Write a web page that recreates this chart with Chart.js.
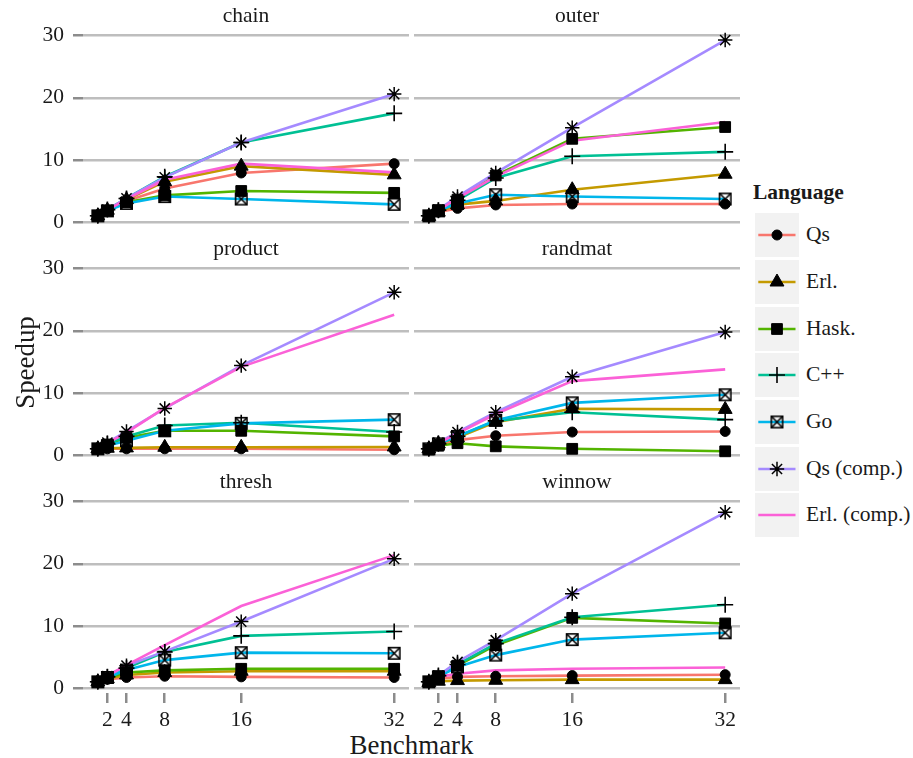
<!DOCTYPE html>
<html>
<head>
<meta charset="utf-8">
<script src="https://cdn.jsdelivr.net/npm/chart.js@4/dist/chart.umd.min.js"></script>
<style>
html,body{margin:0;padding:0;background:#fff;}
body{width:913px;height:758px;position:relative;overflow:hidden;font-family:"Liberation Serif","Times New Roman",serif;color:#1a1a1a;}
canvas.panel{position:absolute;}
.ttl{position:absolute;white-space:nowrap;line-height:1em;font-family:"Liberation Serif",serif;}
.key{position:absolute;width:44px;height:44px;background:#F2F2F2;}
.klab{position:absolute;font-size:21.5px;line-height:1em;white-space:nowrap;font-family:"Liberation Serif",serif;}
</style>
</head>
<body>
<div id="xtitle" class="ttl" style="left:0;width:823px;text-align:center;top:731.5px;font-size:26.9px;">Benchmark</div>
<div id="ltitle" class="ttl" style="left:753px;top:181.5px;font-size:21.5px;font-weight:bold;">Language</div>
<div id="legend"></div>
<script>
// ---------- data ----------
const threads = [1, 2, 4, 8, 16, 32];
const xTicks = [2, 4, 8, 16, 32];
const yTicks = [0, 10, 20, 30];
const languages = ['Qs', 'Erl.', 'Hask.', 'C++', 'Go', 'Qs (comp.)', 'Erl. (comp.)'];
const benchmarks = ['chain', 'outer', 'product', 'randmat', 'thresh', 'winnow'];

// rows follow the order of `languages`, columns follow `threads`
const chain = [
  [1.0, 1.9, 3.4, 5.4, 7.9, 9.4],
  [1.0, 1.9, 3.6, 6.5, 9.0, 7.6],
  [1.0, 1.8, 3.2, 4.3, 5.0, 4.7],
  [1.0, 2.0, 3.8, 7.3, 12.8, 17.5],
  [1.0, 1.8, 3.0, 4.1, 3.7, 2.85],
  [1.0, 2.0, 3.8, 7.2, 12.8, 20.6],
  [1.0, 1.9, 3.7, 6.8, 9.4, 8.0]
];
const outer = [
  [0.9, 1.6, 2.2, 2.75, 2.9, 2.9],
  [0.9, 1.6, 2.8, 3.4, 5.2, 7.7],
  [1.0, 1.9, 3.6, 7.5, 13.4, 15.3],
  [1.0, 1.9, 3.5, 7.1, 10.6, 11.3],
  [1.0, 1.8, 3.0, 4.4, 4.1, 3.7],
  [1.0, 2.0, 4.1, 7.9, 15.2, 29.3],
  [1.0, 1.9, 3.8, 7.3, 13.1, 16.1]
];
const product = [
  [0.9, 1.0, 1.0, 1.0, 1.0, 0.85],
  [1.0, 1.1, 1.15, 1.25, 1.25, 1.3],
  [1.0, 1.7, 2.8, 3.9, 3.9, 3.0],
  [1.0, 1.8, 3.0, 4.75, 5.2, 3.7],
  [1.0, 1.5, 2.3, 3.9, 5.1, 5.7],
  [1.0, 2.0, 3.8, 7.5, 14.4, 26.2],
  [1.0, 1.9, 3.6, 7.6, 14.2, 22.6]
];
const randmat = [
  [0.9, 1.6, 2.4, 3.1, 3.7, 3.8],
  [1.0, 1.8, 2.8, 5.3, 7.45, 7.35],
  [0.9, 1.5, 1.9, 1.4, 1.0, 0.6],
  [1.0, 1.8, 3.0, 5.5, 6.9, 5.7],
  [1.0, 1.8, 3.0, 5.6, 8.4, 9.7],
  [1.0, 2.0, 3.7, 6.9, 12.6, 19.8],
  [1.0, 1.9, 3.5, 6.6, 11.9, 13.8]
];
const thresh = [
  [0.9, 1.4, 1.7, 1.9, 1.8, 1.7],
  [1.0, 1.5, 2.1, 2.5, 2.7, 2.7],
  [1.0, 1.6, 2.5, 2.85, 3.1, 3.1],
  [1.0, 1.8, 3.2, 5.8, 8.4, 9.1],
  [1.0, 1.7, 2.9, 4.5, 5.7, 5.6],
  [1.0, 1.9, 3.6, 5.9, 10.7, 20.8],
  [1.0, 2.0, 3.7, 6.9, 13.2, 21.4]
];
const winnow = [
  [0.9, 1.5, 1.8, 1.9, 2.0, 2.15],
  [0.9, 1.1, 1.2, 1.25, 1.35, 1.35],
  [1.0, 1.9, 3.6, 6.9, 11.3, 10.4],
  [1.0, 2.0, 3.8, 7.15, 11.4, 13.4],
  [1.0, 1.8, 3.4, 5.3, 7.8, 8.9],
  [1.0, 2.0, 4.2, 7.7, 15.2, 28.3],
  [1.0, 1.8, 2.3, 2.85, 3.1, 3.3]
];
const benchData = [chain, outer, product, randmat, thresh, winnow];

// ---------- styles ----------
const colors = ['#F8766D', '#C49A00', '#53B400', '#00C094', '#00B6EB', '#A58AFF', '#FB61D7'];
const FONT = "'Liberation Serif', serif";
const TXT = '#1a1a1a';
const GRID = '#BEBEBE';
const TICKC = '#8C8C8C';

function boxX() {
  const c = document.createElement('canvas');
  c.width = 15; c.height = 15;
  const g = c.getContext('2d');
  g.strokeStyle = '#000'; g.lineWidth = 1.6;
  g.strokeRect(1.8, 1.8, 11.4, 11.4);
  g.beginPath();
  g.moveTo(1.8, 1.8); g.lineTo(13.2, 13.2);
  g.moveTo(13.2, 1.8); g.lineTo(1.8, 13.2);
  g.stroke();
  return c;
}
const goImg = boxX();
const markers = [
  {style: 'circle', r: 5, bw: 1},
  {style: 'triangle', r: 8, bw: 1},
  {style: 'rect', r: 7.6, bw: 1},
  {style: 'cross', r: 8, bw: 1.6},
  {style: goImg, r: 7, bw: 1},
  {style: 'star', r: 7.2, bw: 1.5},
  null
];

// ---------- layout ----------
const colLeft = [83, 414];
const panelW = 326;
const rowTop = [32, 265, 498];
const panelH = 195;
const axisW = 83;
const stripH = 34;
const bottomH = 40;
const padB = 26;

Chart.defaults.font.family = FONT;
Chart.defaults.color = TXT;

benchmarks.forEach((name, b) => {
  const row = Math.floor(b / 2), col = b % 2;
  const data = benchData[b];
  const cv = document.createElement('canvas');
  cv.className = 'panel';
  const left = col === 0 ? 0 : colLeft[1];
  const w = col === 0 ? axisW + panelW : panelW;
  const h = stripH + panelH + (row === 2 ? bottomH : padB);
  cv.width = w; cv.height = h;
  cv.style.left = left + 'px';
  cv.style.top = (rowTop[row] - stripH) + 'px';
  cv.style.width = w + 'px'; cv.style.height = h + 'px';
  document.body.appendChild(cv);

  const datasets = [];
  languages.forEach((lang, i) => {
    const pts = threads.map((t, k) => ({x: t, y: data[i][k]}));
    datasets.push({
      label: lang, data: pts, borderColor: colors[i], backgroundColor: colors[i],
      borderWidth: 2.6, pointRadius: 0, fill: false, tension: 0, order: 100 + (7 - i)
    });
    const m = markers[i];
    if (m) {
      datasets.push({
        label: lang + ' pts', data: pts, showLine: false,
        pointStyle: m.style, pointRadius: m.r, pointBorderWidth: m.bw,
        pointBackgroundColor: '#000', pointBorderColor: '#000', order: 10 - i
      });
    }
  });

  new Chart(cv, {
    type: 'line',
    data: {datasets},
    options: {
      responsive: false, animation: false, events: [],
      layout: {padding: {left: 0, right: 0, top: 0, bottom: row === 2 ? 0 : padB}, autoPadding: false},
      plugins: {legend: {display: false}, tooltip: {enabled: false}},
      scales: {
        x: {
          type: 'linear', position: 'bottom', min: -0.55, max: 33.55,
          display: row === 2,
          grid: {drawOnChartArea: false, drawTicks: true, tickLength: 10, tickColor: TICKC, lineWidth: 2.5},
          border: {display: false},
          ticks: {padding: 4, font: {family: FONT, size: 21.5}, color: TXT, maxRotation: 0, autoSkip: false},
          afterBuildTicks: s => { s.ticks = xTicks.map(v => ({value: v})); },
          afterFit: s => { s.height = row === 2 ? bottomH : 0; }
        },
        strip: {
          type: 'linear', position: 'top', axis: 'x', min: 0, max: 1,
          grid: {display: false}, border: {display: false},
          ticks: {display: false},
          title: {display: true, text: name, font: {family: FONT, size: 21.5}, color: TXT, padding: {top: 5, bottom: 0}},
          afterFit: s => { s.height = stripH; }
        },
        y: {
          type: 'linear', position: 'left', min: -0.8, max: 30.6,
          grid: {color: GRID, lineWidth: 2.5, tickColor: TICKC, tickLength: 10, drawTicks: col === 0},
          border: {display: false},
          ticks: {display: col === 0, padding: 9, font: {family: FONT, size: 21.5}, color: TXT},
          title: {display: b === 2, text: 'Speedup', font: {family: FONT, size: 26.9}, color: TXT, padding: {top: 11, bottom: 0}},
          afterBuildTicks: s => { s.ticks = yTicks.map(v => ({value: v})); },
          afterFit: s => { s.width = col === 0 ? axisW : 0; }
        }
      }
    }
  });
});

// ---------- legend ----------
function drawMarker(g, m, x, y) {
  g.fillStyle = '#000'; g.strokeStyle = '#000'; g.lineWidth = m.bw;
  const r = m.r;
  g.beginPath();
  if (m.style === 'circle') {
    g.arc(x, y, r, 0, Math.PI * 2); g.fill(); g.stroke();
  } else if (m.style === 'triangle') {
    for (let k = 0; k < 3; k++) {
      const a = k * 2 * Math.PI / 3;
      const px = x + Math.sin(a) * r, py = y - Math.cos(a) * r;
      k ? g.lineTo(px, py) : g.moveTo(px, py);
    }
    g.closePath(); g.fill(); g.stroke();
  } else if (m.style === 'rect') {
    const s = r * Math.SQRT1_2;
    g.rect(x - s, y - s, 2 * s, 2 * s); g.fill(); g.stroke();
  } else if (m.style === 'cross' || m.style === 'star') {
    g.moveTo(x - r, y); g.lineTo(x + r, y);
    g.moveTo(x, y - r); g.lineTo(x, y + r);
    if (m.style === 'star') {
      const d = r * Math.SQRT1_2;
      g.moveTo(x - d, y - d); g.lineTo(x + d, y + d);
      g.moveTo(x + d, y - d); g.lineTo(x - d, y + d);
    }
    g.stroke();
  } else {
    g.drawImage(m.style, x - m.style.width / 2, y - m.style.height / 2);
  }
}
const legendTop = 213.3, legendStep = 46.67;
const lg = document.getElementById('legend');
languages.forEach((lang, i) => {
  const top = legendTop + i * legendStep;
  const box = document.createElement('div');
  box.className = 'key';
  box.style.left = '755px'; box.style.top = top + 'px';
  const kc = document.createElement('canvas');
  kc.width = 44; kc.height = 44;
  box.appendChild(kc);
  lg.appendChild(box);
  const g = kc.getContext('2d');
  g.strokeStyle = colors[i]; g.lineWidth = 2.6;
  g.beginPath(); g.moveTo(3.3, 22); g.lineTo(40.5, 22); g.stroke();
  if (markers[i]) drawMarker(g, markers[i], 22, 22);
  const lab = document.createElement('div');
  lab.className = 'klab';
  lab.textContent = lang;
  lab.style.left = '806px';
  lab.style.top = (top + 22 - 0.8375 * 21.5 + 0.33 * 21.5) + 'px';
  lg.appendChild(lab);
});
</script>
</body>
</html>
